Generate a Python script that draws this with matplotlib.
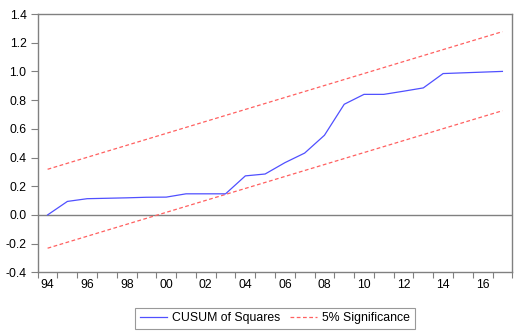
import matplotlib

matplotlib.use("Agg")
import matplotlib.pyplot as plt  # noqa: E402
from matplotlib.ticker import FixedLocator, NullFormatter, FixedFormatter  # noqa: E402

plt.rcParams["font.family"] = ["Liberation Sans", "DejaVu Sans"]

# annual observations, plotted at mid-year
YEARS = list(range(1994, 2018))
CUSUM_SQ = [0.000, 0.094, 0.113, 0.116, 0.119, 0.123, 0.124, 0.147, 0.147, 0.147,
            0.272, 0.285, 0.364, 0.431, 0.555, 0.771, 0.840, 0.840, 0.862, 0.885,
            0.985, 0.990, 0.995, 1.000]

# 5% significance bands (straight lines between first and last year)
BAND_YEARS = [1994, 2017]
UPPER = [0.318, 1.277]
LOWER = [-0.232, 0.726]

YTICKS = [-0.4, -0.2, 0.0, 0.2, 0.4, 0.6, 0.8, 1.0, 1.2, 1.4]
XLABEL_YEARS = list(range(1994, 2018, 2))

GRAY = "#808080"

fig = plt.figure(figsize=(5.21, 3.31), dpi=100)
ax = fig.add_axes([0.0724, 0.1773, 0.9109, 0.7804])

x = [y + 0.5 for y in YEARS]
xb = [y + 0.5 for y in BAND_YEARS]
ax.axhline(0, color=GRAY, lw=1.0, zorder=1)
ax.plot(x, CUSUM_SQ, color="#5050ff", lw=0.9, label="CUSUM of Squares", zorder=3)
ax.plot(xb, UPPER, color="#ff6060", lw=0.9, ls=(0, (3, 2)), label="5% Significance", zorder=2)
ax.plot(xb, LOWER, color="#ff6060", lw=0.9, ls=(0, (3, 2)), zorder=2)

ax.set_xlim(1994, 2018)
ax.set_ylim(-0.4, 1.4)
ax.set_yticks(YTICKS)
ax.set_yticklabels([f"{v:.1f}" for v in YTICKS])

# ticks at year boundaries, labels centred inside each year
ax.xaxis.set_major_locator(FixedLocator(list(range(1994, 2019))))
ax.xaxis.set_major_formatter(NullFormatter())
ax.xaxis.set_minor_locator(FixedLocator([y + 0.5 for y in XLABEL_YEARS]))
ax.xaxis.set_minor_formatter(FixedFormatter([f"{y % 100:02d}" for y in XLABEL_YEARS]))
ax.tick_params(axis="x", which="minor", length=0, pad=5, labelsize=8.8)
ax.tick_params(axis="x", which="major", length=4, width=0.8, color=GRAY)
ax.tick_params(axis="y", length=5, width=0.8, color=GRAY, labelsize=8.8, pad=3)

for sp in ax.spines.values():
    sp.set_color(GRAY)
    sp.set_linewidth(1.0)

leg = ax.legend(loc="upper center", bbox_to_anchor=(0.5, -0.138), ncol=2,
                fontsize=8.8, frameon=True, fancybox=False, handlelength=2.2,
                handletextpad=0.45, columnspacing=0.8, borderpad=0.35,
                borderaxespad=0)
leg.get_frame().set_edgecolor(GRAY)
leg.get_frame().set_linewidth(0.8)

fig.savefig("out.png", dpi=100)
